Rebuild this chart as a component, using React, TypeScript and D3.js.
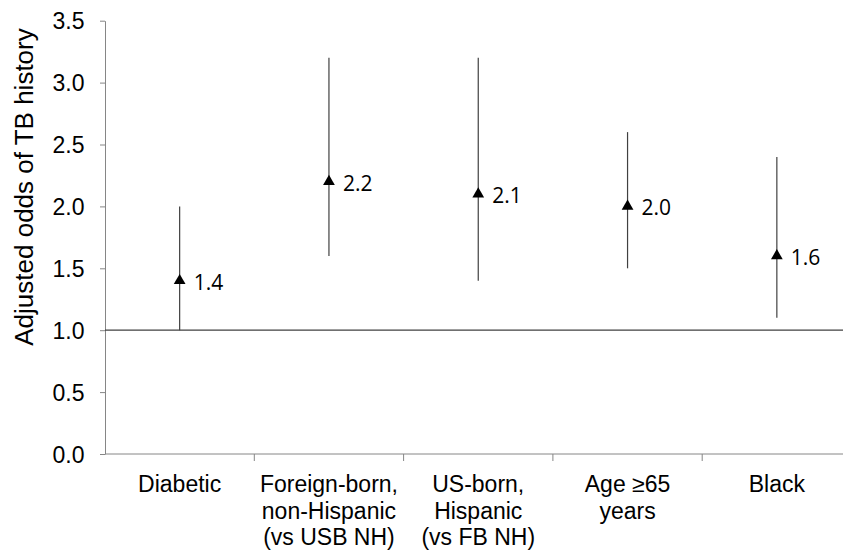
import { useEffect, useRef } from 'react';
import * as d3 from 'd3';

const categories: string[][] = [
  ['Diabetic'],
  ['Foreign-born,', 'non-Hispanic', '(vs USB NH)'],
  ['US-born,', 'Hispanic', '(vs FB NH)'],
  ['Age ≥65', 'years'],
  ['Black'],
];
const oddsRatios = [1.4, 2.2, 2.1, 2.0, 1.6];
const lowerCI = [1.0, 1.6, 1.4, 1.5, 1.1];
const upperCI = [2.0, 3.2, 3.2, 2.6, 2.4];
const yTicks = [0, 0.5, 1, 1.5, 2, 2.5, 3, 3.5];

const width = 843;
const height = 558;

const App = () => {
  const ref = useRef<SVGSVGElement | null>(null);

  useEffect(() => {
    const svg = d3.select(ref.current);
    svg.selectAll('*').remove();

    const left = 105;
    const right = 851.5;
    const top = 20.7;
    const bottom = 454;
    const arial = '"Liberation Sans", Arial, sans-serif';

    const idx = categories.map((_, i) => String(i));
    const x = d3.scaleBand<string>().domain(idx).range([left, right]).padding(0);
    const y = d3.scaleLinear().domain([0, 3.5]).range([bottom, top]);

    // y axis
    const yAxis = svg.append('g').attr('transform', `translate(${left},0)`)
      .call(d3.axisLeft(y).tickValues(yTicks).tickFormat(d3.format('.1f')).tickSize(5).tickSizeOuter(0));
    yAxis.select('.domain').attr('stroke', '#868686');
    yAxis.selectAll('.tick line').attr('stroke', '#868686');
    yAxis.selectAll('.tick text')
      .attr('x', -20.5)
      .attr('dy', '0.35em')
      .style('font-family', arial)
      .style('font-size', '23px')
      .attr('fill', '#000');

    // x axis
    const xAxis = svg.append('g').attr('transform', `translate(0,${bottom})`);
    xAxis.append('line')
      .attr('x1', left).attr('x2', right).attr('y1', 0).attr('y2', 0)
      .attr('stroke', '#868686');
    xAxis.selectAll('line.tk')
      .data(idx.slice(1))
      .join('line')
      .attr('class', 'tk')
      .attr('x1', d => x(d) as number).attr('x2', d => x(d) as number)
      .attr('y1', 0).attr('y2', 7)
      .attr('stroke', '#868686');

    const labels = xAxis.selectAll('text.cat')
      .data(categories)
      .join('text')
      .attr('class', 'cat')
      .attr('text-anchor', 'middle')
      .style('font-family', arial)
      .style('font-size', '23px')
      .attr('fill', '#000');
    labels.each(function (lines, i) {
      const cx = (x(String(i)) as number) + x.bandwidth() / 2;
      d3.select(this).selectAll('tspan')
        .data(lines)
        .join('tspan')
        .attr('x', cx)
        .attr('y', (_, j) => 37.7 + j * 26.8)
        .text(d => d);
    });

    // reference line at 1.0
    svg.append('line')
      .attr('x1', left).attr('x2', right)
      .attr('y1', y(1)).attr('y2', y(1))
      .attr('stroke', '#404040').attr('stroke-width', 1.2);

    const cxOf = (i: number) => (x(String(i)) as number) + x.bandwidth() / 2;

    // error bars
    svg.selectAll('line.ci')
      .data(oddsRatios)
      .join('line')
      .attr('class', 'ci')
      .attr('x1', (_, i) => cxOf(i)).attr('x2', (_, i) => cxOf(i))
      .attr('y1', (_, i) => y(lowerCI[i])).attr('y2', (_, i) => y(upperCI[i]))
      .attr('stroke', '#404040').attr('stroke-width', 1.2);

    // markers
    const tri = d3.symbol().type(d3.symbolTriangle).size(60);
    svg.selectAll('path.pt')
      .data(oddsRatios)
      .join('path')
      .attr('class', 'pt')
      .attr('d', tri)
      .attr('transform', (d, i) => `translate(${cxOf(i)},${y(d)})`)
      .attr('fill', '#000');

    // value labels
    svg.selectAll('text.val')
      .data(oddsRatios)
      .join('text')
      .attr('class', 'val')
      .attr('x', (_, i) => cxOf(i) + 14)
      .attr('y', d => y(d) + 9)
      .style('font-family', '"Open Sans", "Noto Sans", sans-serif')
      .style('font-size', '21px')
      .attr('fill', '#000')
      .text(d => d3.format('.1f')(d));

    // y title
    svg.append('text')
      .attr('transform', `translate(33,187) rotate(-90)`)
      .attr('text-anchor', 'middle')
      .style('font-family', arial)
      .style('font-size', '26px')
      .attr('fill', '#000')
      .text('Adjusted odds of TB history');
  }, []);

  return (
    <svg ref={ref} width={width} height={height}
      style={{ position: 'absolute', left: 0, top: 0, background: '#fff' }} />
  );
};

export default App;
